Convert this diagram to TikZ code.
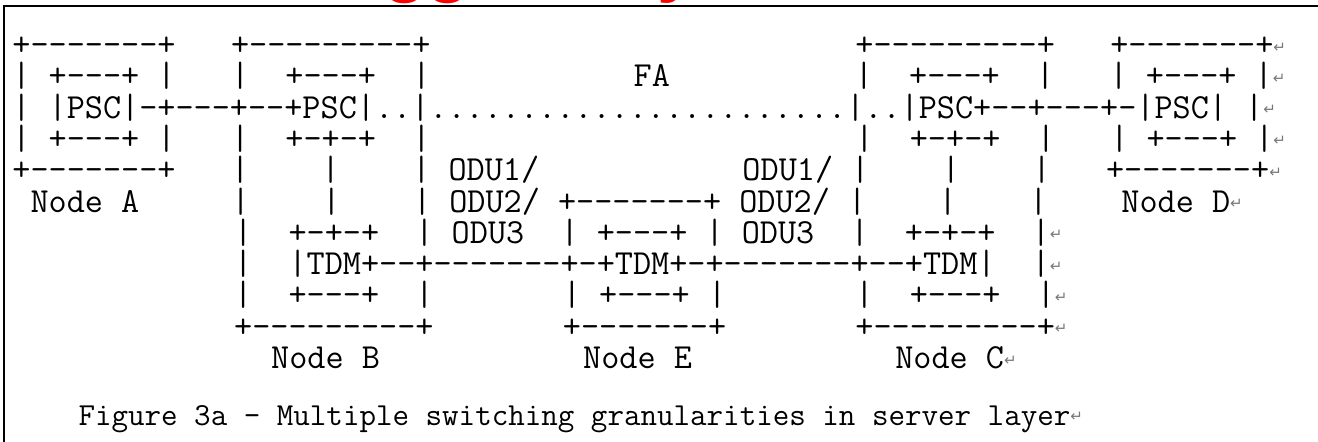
\documentclass[tikz,border=0pt]{standalone}
\usepackage{fontspec}
\newfontfamily\retfont{DejaVu Sans}
\newfontfamily\headfont{Liberation Sans}
\definecolor{retgray}{RGB}{120,120,120}
\definecolor{headred}{RGB}{255,0,0}
\newlength\cw
\setlength\cw{18.48pt}
\newcommand\gp[1]{\hspace*{#1\cw}}
\newcommand\ret{{\retfont\fontsize{15}{15}\selectfont\color{retgray}\raisebox{3.5pt}{↵}}}
\begin{document}
\begin{tikzpicture}[x=1pt,y=-1pt,
  art/.style={anchor=base west,inner sep=0pt,outer sep=0pt,
    text height=21pt,text depth=9pt,
    font=\ttfamily\fontsize{35.2}{35.2}\selectfont,text=black},
  capline/.style={anchor=base west,inner sep=0pt,outer sep=0pt,
    text height=21pt,text depth=8pt,
    font=\ttfamily\fontsize{32.1}{32.1}\selectfont,text=black},
  frameline/.style={line width=2pt,black},
  redhead/.style={anchor=south west,inner sep=0pt,outer sep=0pt,
    font=\headfont\bfseries\fontsize{72}{72}\selectfont,text=headred}]
\useasboundingbox (0,0) rectangle (1318,442);
% cut-off red heading at the very top (only the lowest tips show)
\begin{scope}
  \clip (0,-1) rectangle (1318,3.4);
  \node[redhead] (hg) at (383,3.4) {gg};
  \node[redhead] (hy) at (657,3.4) {y};
\end{scope}
% frame
\draw[frameline] (3.7,442) -- (3.7,5.7) -- (1318,5.7);
% ASCII art lines
\node[art] (l1)  at (12.45,55.5)  {+-------+\gp3+---------+\gp{23}+---------+\gp3+-------+\ret};
\node[art] (l2)  at (12.45,86.8)  {|~+---+~|\gp3|~~+---+~~|\gp{11}FA\gp{10}|~~+---+~~|\gp3|~+---+~|\ret};
\node[art] (l3)  at (12.45,118.1) {|~|PSC|-+---+--+PSC|..|.......................|..|PSC+--+---+-|PSC|~|\ret};
\node[art] (l4)  at (12.45,149.4) {|~+---+~|\gp3|~~+-+-+~~|\gp{23}|~~+-+-+~~|\gp3|~+---+~|\ret};
\node[art] (l5)  at (12.45,180.7) {+-------+\gp3|~~~~|~~~~|~ODU1/\gp{11}ODU1/~|~~~~|~~~~|\gp3+-------+\ret};
\node[art] (l6)  at (12.45,212.0) {~Node~A\gp5|~~~~|~~~~|~ODU2/~+-------+~ODU2/~|~~~~|~~~~|\gp4Node~D\ret};
\node[art] (l7)  at (12.45,243.3) {\gp{12}|~~+-+-+~~|~ODU3~~|~+---+~|~ODU3~~|~~+-+-+~~|\ret};
\node[art] (l8)  at (12.45,274.6) {\gp{12}|~~|TDM+--+-------+-+TDM+-+-------+--+TDM|~~|\ret};
\node[art] (l9)  at (12.45,305.9) {\gp{12}|~~+---+~~|\gp7|~+---+~|\gp7|~~+---+~~|\ret};
\node[art] (l10) at (12.45,337.2) {\gp{12}+---------+\gp7+-------+\gp7+---------+\ret};
\node[art] (l11) at (12.45,368.5) {\gp{14}Node~B\gp{11}Node~E\gp{11}Node~C\ret};
% caption
\node[capline] (cap) at (78.5,425) {Figure~3a~-~Multiple~switching~granularities~in~server~layer\ret};
\end{tikzpicture}
\end{document}
